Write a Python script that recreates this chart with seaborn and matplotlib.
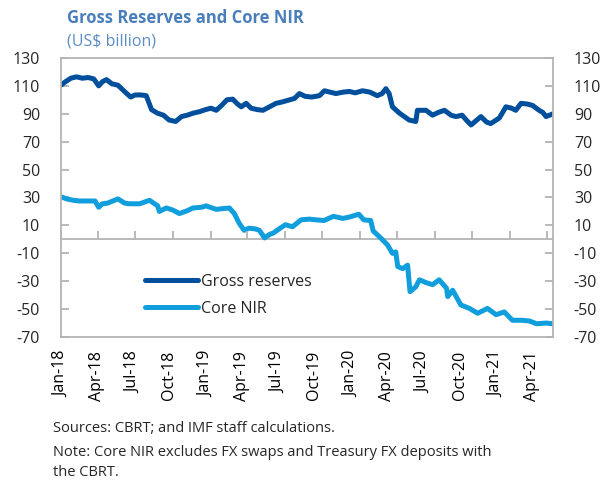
import pandas as pd
import numpy as np
import matplotlib
matplotlib.use('Agg')
import matplotlib.pyplot as plt
import matplotlib.dates as mdates
import matplotlib.transforms as mtransforms
import seaborn as sns

# Gross reserves (US$ billion)
gross_dates = ['2018-01-01', '2018-01-12', '2018-01-25', '2018-02-08', '2018-02-22', '2018-03-08',
               '2018-03-22', '2018-04-03', '2018-04-12', '2018-04-22', '2018-05-05', '2018-05-20',
               '2018-06-05', '2018-06-20', '2018-07-01', '2018-07-15', '2018-07-28', '2018-08-10',
               '2018-08-24', '2018-09-08', '2018-09-22', '2018-10-08', '2018-10-22', '2018-11-05',
               '2018-11-20', '2018-12-05', '2018-12-20', '2019-01-02', '2019-01-15', '2019-01-28',
               '2019-02-10', '2019-02-24', '2019-03-08', '2019-03-17', '2019-03-29', '2019-04-10',
               '2019-04-25', '2019-05-09', '2019-05-25', '2019-06-10', '2019-06-25', '2019-07-13',
               '2019-07-25', '2019-08-06', '2019-08-20', '2019-09-05', '2019-09-24', '2019-10-06',
               '2019-10-20', '2019-11-03', '2019-11-20', '2019-12-06', '2019-12-20', '2020-01-07',
               '2020-01-25', '2020-02-12', '2020-02-24', '2020-03-04', '2020-03-12', '2020-03-20',
               '2020-04-06', '2020-04-18', '2020-04-30', '2020-05-16', '2020-05-20', '2020-06-10',
               '2020-06-26', '2020-07-10', '2020-07-25', '2020-08-10', '2020-08-22', '2020-09-06',
               '2020-09-18', '2020-09-28', '2020-10-10', '2020-10-22', '2020-11-05', '2020-11-15',
               '2020-12-06', '2020-12-22', '2021-01-05', '2021-01-15', '2021-01-28', '2021-02-12',
               '2021-02-25', '2021-03-13', '2021-03-22', '2021-03-30', '2021-04-16']
gross_values = [110.5, 113, 115.5, 116.5, 115.5, 116, 115, 110, 113, 114.5, 111.5, 110.5,
                106, 102, 103.5, 103.5, 103, 93, 90.5, 89, 85.5, 84.5, 88, 89,
                90.5, 91.5, 93, 94, 92.5, 96, 100, 100.5, 97, 95, 97.5, 94,
                93, 92.5, 95, 97.5, 98.5, 100, 101, 104.5, 102.5, 102, 103, 106.5,
                105.5, 104.5, 105.5, 106, 105, 106.5, 105.5, 103, 104.5, 108, 104.5, 95,
                90.5, 88, 85.5, 84.5, 92.5, 92.5, 89, 91, 92.5, 89, 88, 89,
                85, 82, 85, 88, 84, 83, 87, 95, 94, 92.5, 97.5, 97,
                96, 92.5, 91, 88, 90]

# Core NIR (US$ billion)
nir_dates = ['2018-01-01', '2018-01-15', '2018-01-31', '2018-02-15', '2018-03-05', '2018-03-25',
             '2018-04-03', '2018-04-12', '2018-04-25', '2018-05-20', '2018-06-05', '2018-06-17',
             '2018-07-12', '2018-08-05', '2018-08-25', '2018-08-29', '2018-09-15', '2018-10-01',
             '2018-10-17', '2018-11-05', '2018-11-19', '2018-12-10', '2018-12-21', '2019-01-15',
             '2019-01-30', '2019-02-16', '2019-02-28', '2019-03-12', '2019-03-24', '2019-04-05',
             '2019-04-20', '2019-04-30', '2019-05-13', '2019-05-25', '2019-06-03', '2019-06-20',
             '2019-07-03', '2019-07-20', '2019-08-10', '2019-08-30', '2019-09-15', '2019-10-05',
             '2019-10-28', '2019-11-20', '2019-12-06', '2019-12-29', '2020-01-10', '2020-01-27',
             '2020-02-02', '2020-02-15', '2020-02-22', '2020-03-08', '2020-03-20', '2020-03-28',
             '2020-04-02', '2020-04-14', '2020-04-26', '2020-05-02', '2020-05-16', '2020-05-25',
             '2020-06-10', '2020-06-26', '2020-07-12', '2020-07-30', '2020-08-02', '2020-08-14',
             '2020-09-03', '2020-09-24', '2020-10-14', '2020-11-07', '2020-11-28', '2020-12-18',
             '2021-01-07', '2021-01-30', '2021-02-17', '2021-03-07', '2021-03-30', '2021-04-16']
nir_values = [30.5, 29, 28, 27.5, 27.5, 27.5, 23, 25.5, 26, 29, 26, 25.5,
              25.5, 28, 24, 20, 22.5, 21, 18.5, 20.5, 22.5, 23, 24, 21.5,
              22, 22.5, 18.5, 11.5, 6.5, 8, 7.5, 6.5, 1, 3.5, 4.5, 8,
              10.5, 9, 14, 14.5, 14, 13.5, 16.5, 15, 16, 18, 14, 13.5,
              6, 2.5, 0.5, -4, -10, -9, -19.5, -21, -18.5, -37.5, -34, -29,
              -31, -32.5, -29, -35, -41, -36.5, -47, -49.5, -53, -49.5, -54, -52,
              -58, -58, -58.5, -60.5, -60, -60.5]

gross_color = '#004f9c'
nir_color = '#109fdc'
frame_gray = '#b4b4b4'

sns.set_style('white')
plt.rcParams['font.family'] = ['Open Sans', 'DejaVu Sans']
plt.rcParams['axes.unicode_minus'] = False

fig = plt.figure(figsize=(6.04, 4.82), dpi=100)
ax = fig.add_axes([0.101, 0.3008, 0.8146, 0.5789])

gross = pd.DataFrame({'date': pd.to_datetime(gross_dates), 'value': gross_values})
nir = pd.DataFrame({'date': pd.to_datetime(nir_dates), 'value': nir_values})

sns.lineplot(data=gross, x='date', y='value', ax=ax, color=gross_color, linewidth=3.6,
             label='Gross reserves')
sns.lineplot(data=nir, x='date', y='value', ax=ax, color=nir_color, linewidth=3.6,
             label='Core NIR')

ax.axhline(0, color=frame_gray, linewidth=1.3, zorder=1)

start, end = pd.Timestamp('2018-01-01'), pd.Timestamp('2021-04-16')
ax.set_xlim(start, end)
ax.set_ylim(-70, 130)
ax.set_yticks(np.arange(-70, 131, 20))

quarters = pd.date_range('2018-01-01', '2021-04-01', freq='QS')
ax.set_xticks(quarters)
ax.xaxis.set_major_formatter(mdates.DateFormatter('%b-%y'))
# tick marks sit on the zero line, pointing up
ax.plot(quarters, np.zeros(len(quarters)), linestyle='none', marker=2, markersize=6,
        markeredgewidth=1.3, color=frame_gray, clip_on=False)

ax.tick_params(axis='x', length=0, pad=10, labelsize=11.5, rotation=90, colors='black')
ax.tick_params(axis='y', direction='in', length=6, width=1.3, color=frame_gray,
               left=True, right=True, labelleft=True, labelright=True,
               labelsize=11.5, pad=15)
# labels in the original drift slightly left of their ticks
for i, lbl in enumerate(ax.get_xticklabels()):
    shift = mtransforms.ScaledTranslation(-i * 1.15 / 100, 0, fig.dpi_scale_trans)
    lbl.set_transform(lbl.get_transform() + shift)

for s in ax.spines.values():
    s.set_visible(True)
    s.set_color(frame_gray)
    s.set_linewidth(1.3)
ax.set_xlabel('')
ax.set_ylabel('')

ax.legend(loc='upper left', bbox_to_anchor=(0.155, 0.255), frameon=False, fontsize=11.5,
          handlelength=3.3, handletextpad=0.2, labelspacing=0.7, borderpad=0)

fig.text(0.111, 0.963, 'Gross Reserves and Core NIR', fontsize=12, fontweight='bold',
         color='#4a7ebb', va='center')
fig.text(0.111, 0.913, '(US$ billion)', fontsize=11.5, color='#5b8cc6', va='center')
fig.text(0.088, 0.112, 'Sources: CBRT; and IMF staff calculations.', fontsize=10.5, va='center')
fig.text(0.088, 0.062, 'Note: Core NIR excludes FX swaps and Treasury FX deposits with',
         fontsize=10.5, va='center')
fig.text(0.088, 0.019, 'the CBRT.', fontsize=10.5, va='center')

fig.savefig('out.png', dpi=100)
